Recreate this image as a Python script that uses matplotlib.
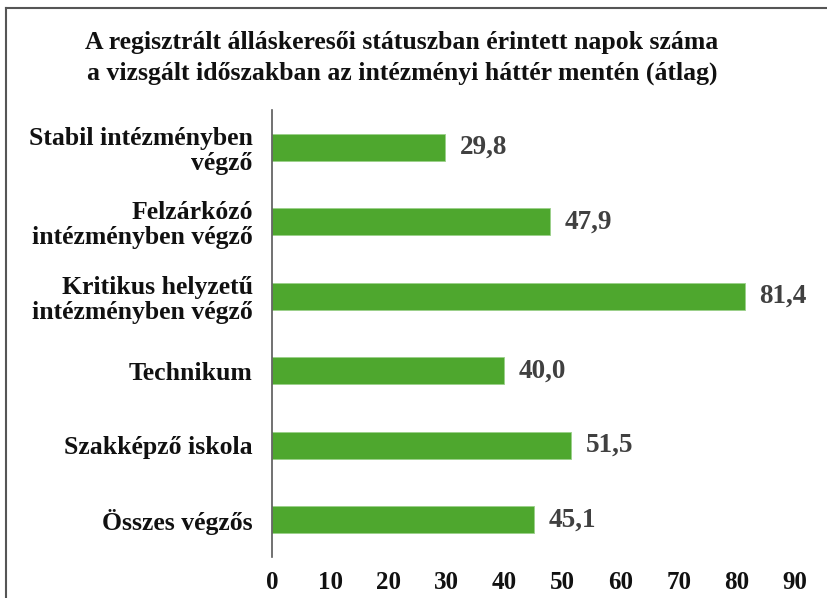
import matplotlib
matplotlib.use("Agg")
import matplotlib.pyplot as plt
from matplotlib.lines import Line2D

categories = ["Stabil intézményben\nvégző", "Felzárkózó\nintézményben végző",
              "Kritikus helyzetű\nintézményben végző", "Technikum",
              "Szakképző iskola", "Összes végzős"]
values = [29.8, 47.9, 81.4, 40.0, 51.5, 45.1]
value_labels = ["29,8", "47,9", "81,4", "40,0", "51,5", "45,1"]
xticks = [0, 10, 20, 30, 40, 50, 60, 70, 80, 90]
title = "A regisztrált álláskeresői státuszban érintett napok száma\na vizsgált időszakban az intézményi háttér mentén (átlag)"

plt.rcParams['font.family'] = ['Liberation Serif', 'DejaVu Serif']

fig = plt.figure(figsize=(8.28, 5.98), dpi=100)
ax = fig.add_axes([272/828, 1-557/598, (795-272)/828, (557-110)/598])

ypos = list(range(len(categories)))[::-1]
ax.barh(ypos, values, height=0.36, color="#4EA72E", edgecolor="#9BD08A", linewidth=0.6)
for y, v, lab in zip(ypos, values, value_labels):
    ax.text(v + 2.5, y, lab, va="center", ha="left", fontsize=19.5, fontweight="bold", color="#404040")

ax.set_xlim(0, 90)
ax.set_ylim(-0.5, 5.5)
ax.set_yticks(ypos)
ax.set_yticklabels(categories, fontsize=18.5, fontweight="bold", color="#111111", linespacing=1.1)
ax.set_xticks(xticks)
ax.set_xticklabels([str(t) for t in xticks], fontsize=18, fontweight="bold", color="#111111")
ax.tick_params(axis="both", length=0)
ax.tick_params(axis="y", pad=14)
ax.tick_params(axis="x", pad=10)
for s in ["top", "right", "bottom"]:
    ax.spines[s].set_visible(False)
ax.spines["left"].set_color("#595959")
ax.spines["left"].set_linewidth(1.2)

fig.text(402/828, 1-58/598, title, ha="center", va="center", fontsize=18.5,
         fontweight="bold", color="#111111", linespacing=1.45)

# outer frame (left and top edges)
fig.add_artist(Line2D([6/828, 6/828], [0, 1-8/598], color="#555555", linewidth=1.5, transform=fig.transFigure))
fig.add_artist(Line2D([6/828, 1], [1-8/598, 1-8/598], color="#555555", linewidth=1.5, transform=fig.transFigure))

fig.savefig("out.png", dpi=100)
